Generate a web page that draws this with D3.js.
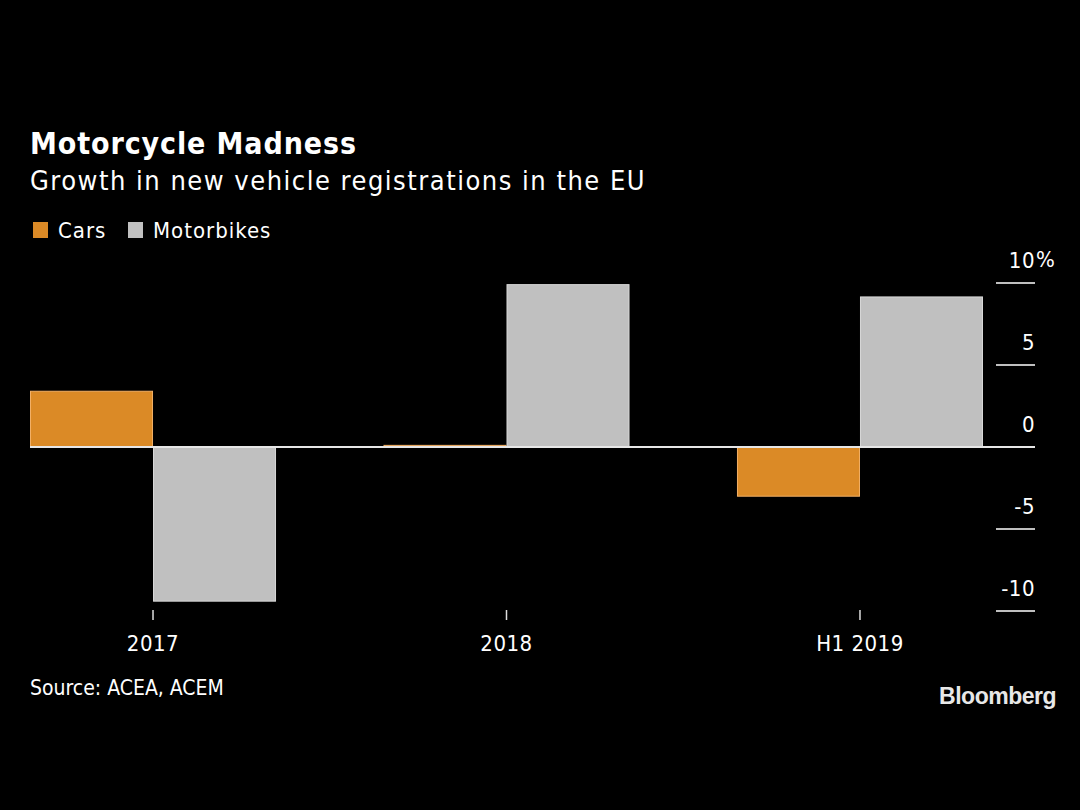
<!DOCTYPE html>
<html>
<head>
<meta charset="utf-8">
<script src="https://cdn.jsdelivr.net/npm/d3@7"></script>
<style>
  body { margin: 0; background: #000; }
  svg { display: block; }
  text { font-family: "DejaVu Sans Condensed", "DejaVu Sans", sans-serif; fill: #fff; }
</style>
</head>
<body>
<svg id="chart"></svg>
<script>
// ---------------- data ----------------
var periods = ["2017", "2018", "H1 2019"];
var series = ["Cars", "Motorbikes"];
var cars = [3.4, 0.1, -3.0];
var motorbikes = [-9.4, 9.9, 9.15];
var yTicks = [10, 5, 0, -5, -10];

var colors = { Cars: "#db8a26", Motorbikes: "#c0c0c0" };
var strokes = { Cars: "#f2b066", Motorbikes: "#d8d8d8" };

// ---------------- layout ----------------
var width = 1080, height = 810;
var svg = d3.select("#chart").attr("width", width).attr("height", height);

svg.append("rect").attr("width", width).attr("height", height).attr("fill", "#000");

// titles
svg.append("text").attr("x", 30).attr("y", 154)
  .text("Motorcycle Madness")
  .style("font-size", "30px").style("font-weight", "bold")
  .style("letter-spacing", "0.9px");

svg.append("text").attr("x", 30).attr("y", 190)
  .text("Growth in new vehicle registrations in the EU")
  .style("font-size", "27px")
  .style("letter-spacing", "1.5px");

// legend
var legend = svg.append("g").attr("transform", "translate(33,222)");
series.forEach(function(s, i) {
  var g = legend.append("g").attr("transform", "translate(" + (i === 0 ? 0 : 95) + ",0)");
  g.append("rect").attr("width", 15).attr("height", 16).attr("fill", colors[s]);
  g.append("text").attr("x", 25).attr("y", 16).text(s)
    .style("font-size", "22px").style("letter-spacing", "1px");
});

// scales
var x0 = d3.scaleBand().domain(periods).range([30, 983]).paddingInner(0.304).paddingOuter(0);
var x1 = d3.scaleBand().domain(series).range([0, x0.bandwidth()]);
var y = d3.scaleLinear().domain([-10, 10]).range([611, 283]);

var rows = periods.map(function(p, i) {
  return { period: p, Cars: cars[i], Motorbikes: motorbikes[i] };
});

// bars
var groups = svg.append("g").selectAll("g")
  .data(rows).enter().append("g")
  .attr("transform", d => "translate(" + x0(d.period) + ",0)");

groups.selectAll("rect")
  .data(d => series.map(s => ({ key: s, value: d[s] })))
  .enter().append("rect")
  .attr("x", d => x1(d.key) + 0.5)
  .attr("width", x1.bandwidth() - 1)
  .attr("y", d => y(Math.max(0, d.value)))
  .attr("height", d => Math.abs(y(d.value) - y(0)))
  .attr("fill", d => colors[d.key])
  .attr("stroke", d => strokes[d.key])
  .attr("stroke-width", 1);

// zero line
svg.append("line")
  .attr("x1", 30).attr("x2", 1035)
  .attr("y1", y(0)).attr("y2", y(0))
  .attr("stroke", "#e6e6e6").attr("stroke-width", 2);

// y axis on right
var yAxis = svg.append("g");
yTicks.forEach(function(t) {
  if (t !== 0) {
    yAxis.append("line")
      .attr("x1", 996).attr("x2", 1035)
      .attr("y1", y(t)).attr("y2", y(t))
      .attr("stroke", "#fff").attr("stroke-width", 1.5);
  }
  yAxis.append("text")
    .attr("x", 1035).attr("y", y(t) - 15)
    .attr("text-anchor", "end")
    .style("font-size", "22px")
    .style("letter-spacing", "0.5px")
    .text(t < 0 ? "-" + Math.abs(t) : t);
  if (t === 10) {
    yAxis.append("text").attr("x", 1036).attr("y", y(t) - 16)
      .style("font-size", "22px").text("%");
  }
});

// x axis
var xAxis = svg.append("g");
periods.forEach(function(p) {
  var cx = x0(p) + x0.bandwidth() / 2;
  xAxis.append("line")
    .attr("x1", cx).attr("x2", cx)
    .attr("y1", 610).attr("y2", 620)
    .attr("stroke", "#ddd").attr("stroke-width", 1.5);
  xAxis.append("text")
    .attr("x", cx).attr("y", 651)
    .attr("text-anchor", "middle")
    .style("font-size", "22px")
    .style("letter-spacing", "0.5px")
    .text(p);
});

// source + logo
svg.append("text").attr("x", 30).attr("y", 695)
  .text("Source: ACEA, ACEM")
  .style("font-size", "21px");

svg.append("text").attr("x", 1056).attr("y", 704)
  .attr("text-anchor", "end")
  .text("Bloomberg")
  .style("font-family", "'Liberation Sans Narrow', 'Liberation Sans', sans-serif")
  .style("font-size", "23px").style("font-weight", "bold")
  .style("letter-spacing", "-0.5px")
  .style("fill", "#e8e8e8");
</script>
</body>
</html>
